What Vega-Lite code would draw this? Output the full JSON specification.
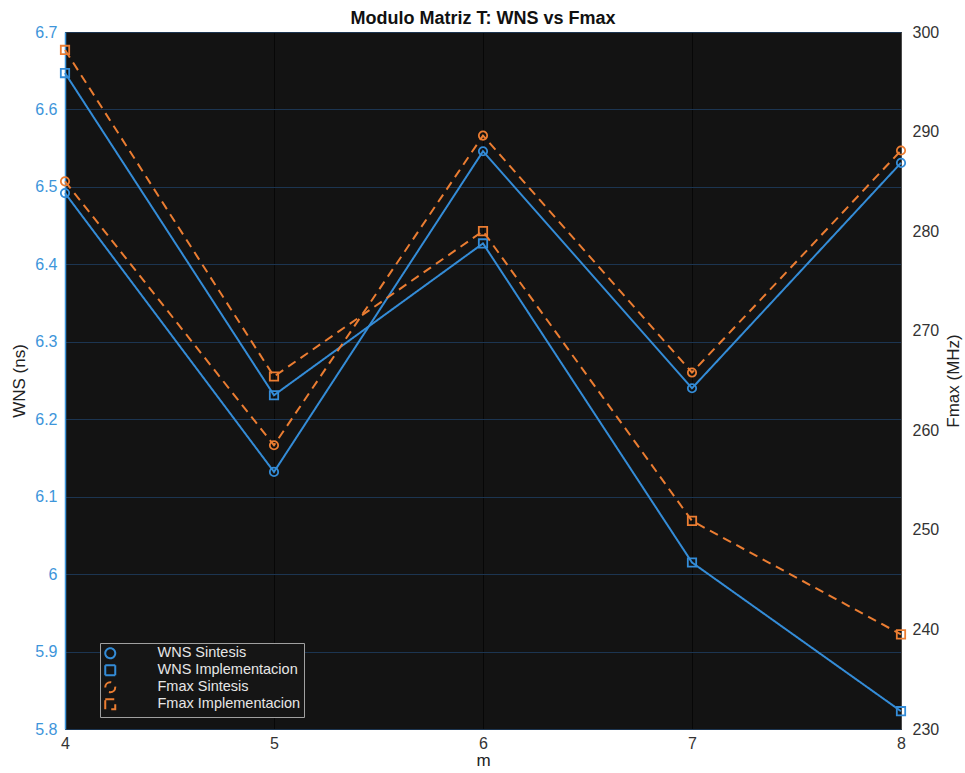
{
  "$schema": "https://vega.github.io/schema/vega-lite/v6.json",
  "width": 836,
  "height": 697,
  "autosize": {"type": "none"},
  "padding": {"left": 65, "top": 32, "right": 64, "bottom": 44},
  "background": "white",
  "title": {"text": "Modulo Matriz T: WNS vs Fmax", "fontSize": 18, "fontWeight": "bold", "font": "Liberation Sans", "color": "#111111", "offset": -4},
  "config": {"view": {"fill": "#131313", "stroke": "#4a4a4a", "strokeWidth": 1}, "font": "Liberation Sans"},
  "data": {"values": [
    {"m": 4, "series": "WNS Sintesis", "kind": "WNS", "value": 6.492},
    {"m": 5, "series": "WNS Sintesis", "kind": "WNS", "value": 6.132},
    {"m": 6, "series": "WNS Sintesis", "kind": "WNS", "value": 6.546},
    {"m": 7, "series": "WNS Sintesis", "kind": "WNS", "value": 6.240},
    {"m": 8, "series": "WNS Sintesis", "kind": "WNS", "value": 6.531},
    {"m": 4, "series": "WNS Implementacion", "kind": "WNS", "value": 6.647},
    {"m": 5, "series": "WNS Implementacion", "kind": "WNS", "value": 6.231},
    {"m": 6, "series": "WNS Implementacion", "kind": "WNS", "value": 6.427},
    {"m": 7, "series": "WNS Implementacion", "kind": "WNS", "value": 6.015},
    {"m": 8, "series": "WNS Implementacion", "kind": "WNS", "value": 5.823},
    {"m": 4, "series": "Fmax Sintesis", "kind": "Fmax", "value": 285.0},
    {"m": 5, "series": "Fmax Sintesis", "kind": "Fmax", "value": 258.5},
    {"m": 6, "series": "Fmax Sintesis", "kind": "Fmax", "value": 289.6},
    {"m": 7, "series": "Fmax Sintesis", "kind": "Fmax", "value": 265.8},
    {"m": 8, "series": "Fmax Sintesis", "kind": "Fmax", "value": 288.1},
    {"m": 4, "series": "Fmax Implementacion", "kind": "Fmax", "value": 298.2},
    {"m": 5, "series": "Fmax Implementacion", "kind": "Fmax", "value": 265.4},
    {"m": 6, "series": "Fmax Implementacion", "kind": "Fmax", "value": 280.0},
    {"m": 7, "series": "Fmax Implementacion", "kind": "Fmax", "value": 250.9},
    {"m": 8, "series": "Fmax Implementacion", "kind": "Fmax", "value": 239.5}
  ]},
  "encoding": {
    "x": {"field": "m", "type": "quantitative", "scale": {"domain": [4, 8], "nice": false},
      "axis": {"values": [4, 5, 6, 7, 8], "format": "d", "title": "m", "labelColor": "#333333", "labelFontSize": 16, "titleFontSize": 17, "titleFontWeight": "normal", "titleColor": "#222222", "ticks": false, "domain": false, "grid": true, "gridColor": "#070707", "gridWidth": 1, "labelPadding": 6, "titlePadding": 1, "labelFlush": false}}
  },
  "layer": [
    {
      "transform": [{"filter": "datum.kind == 'WNS'"}],
      "encoding": {
        "y": {"field": "value", "type": "quantitative", "scale": {"domain": [5.8, 6.7], "nice": false, "zero": false},
          "axis": {"orient": "left", "title": "WNS (ns)", "values": [5.8, 5.9, 6.0, 6.1, 6.2, 6.3, 6.4, 6.5, 6.6, 6.7], "format": ".3~g", "labelColor": "#3D95DA", "labelFontSize": 16, "domainColor": "#3D95DA", "domainWidth": 1.5, "ticks": false, "labelPadding": 8, "grid": true, "gridColor": "#1C3551", "gridWidth": 1.2, "titleColor": "#222222", "titleFontSize": 17, "titleFontWeight": "normal", "titlePadding": 6}}
      },
      "layer": [
        {"mark": {"type": "line", "strokeWidth": 2},
         "encoding": {
           "color": {"field": "series", "type": "nominal", "scale": {"domain": ["WNS Sintesis", "WNS Implementacion", "Fmax Sintesis", "Fmax Implementacion"], "range": ["#348CD7", "#348CD7", "#EB7D32", "#EB7D32"]}},
           "strokeDash": {"field": "series", "type": "nominal", "scale": {"domain": ["WNS Sintesis", "WNS Implementacion", "Fmax Sintesis", "Fmax Implementacion"], "range": [[1, 0], [1, 0], [9, 6], [9, 6]]}}
         }},
        {"mark": {"type": "point", "filled": false, "strokeWidth": 1.8, "size": 70, "opacity": 1},
         "encoding": {
           "color": {"field": "series", "type": "nominal",
             "legend": {"title": null, "orient": "none", "legendX": 35, "legendY": 611, "fillColor": "#151515", "strokeColor": "#a0a0a0", "padding": 3, "labelColor": "#e6e6e6", "labelFontSize": 14.5, "labelFont": "Liberation Sans", "symbolSize": 100, "labelOffset": 40, "rowPadding": -2, "symbolStrokeWidth": 2}},
           "shape": {"field": "series", "type": "nominal", "scale": {"domain": ["WNS Sintesis", "WNS Implementacion", "Fmax Sintesis", "Fmax Implementacion"], "range": ["circle", "square", "circle", "square"]}}
         }}
      ]
    },
    {
      "transform": [{"filter": "datum.kind == 'Fmax'"}],
      "encoding": {
        "y": {"field": "value", "type": "quantitative", "scale": {"domain": [230, 300], "nice": false, "zero": false},
          "axis": {"orient": "right", "title": "Fmax (MHz)", "values": [230, 240, 250, 260, 270, 280, 290, 300], "labelColor": "#333333", "labelFontSize": 16, "grid": false, "ticks": false, "domainColor": "#4a4a4a", "labelPadding": 11, "titleAngle": 270, "titleBaseline": "top", "titleColor": "#222222", "titleFontSize": 17, "titleFontWeight": "normal", "titlePadding": 7}}
      },
      "layer": [
        {"mark": {"type": "line", "strokeWidth": 2},
         "encoding": {
           "color": {"field": "series", "type": "nominal"},
           "strokeDash": {"field": "series", "type": "nominal"}
         }},
        {"mark": {"type": "point", "filled": false, "strokeWidth": 1.8, "size": 70, "opacity": 1},
         "encoding": {
           "color": {"field": "series", "type": "nominal"},
           "shape": {"field": "series", "type": "nominal"}
         }}
      ]
    }
  ],
  "resolve": {"scale": {"y": "independent"}}
}
